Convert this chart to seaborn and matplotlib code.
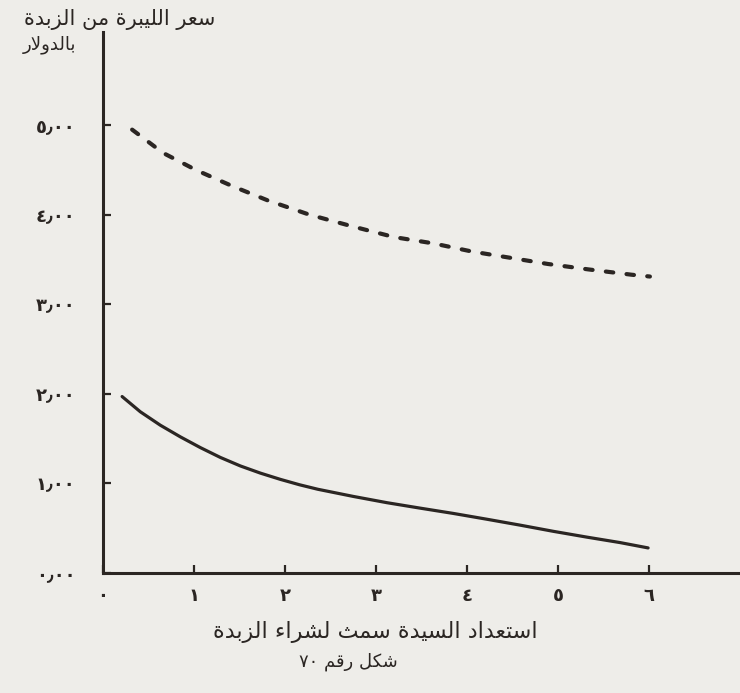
import re
import matplotlib
matplotlib.use("Agg")
import matplotlib.pyplot as plt
import seaborn as sns

# Arabic text (shaped below, matplotlib has no RTL layout)
Y_TITLE_1 = "سعر الليبرة من الزبدة"
Y_TITLE_2 = "بالدولار"
X_TITLE = "استعداد السيدة سمث لشراء الزبدة"
CAPTION = "شكل رقم ٧٠"

# tick labels (Arabic-Indic digits)
x_ticks = [0, 1, 2, 3, 4, 5, 6]
x_labels = ["٠", "١", "٢", "٣", "٤", "٥", "٦"]
y_ticks = [0, 1, 2, 3, 4, 5]
y_labels = ["٠٫٠٠", "١٫٠٠", "٢٫٠٠", "٣٫٠٠", "٤٫٠٠", "٥٫٠٠"]

# dashed curve (upper)
upper_x = [0.32, 0.66, 1.02, 1.42, 1.81, 2.27, 2.74, 3.20, 3.63, 4.05, 4.47, 4.89, 5.33, 5.81, 6.01]
upper_y = [4.95, 4.69, 4.50, 4.32, 4.16, 4.00, 3.87, 3.75, 3.68, 3.59, 3.52, 3.45, 3.39, 3.33, 3.31]

# solid curve (lower)
lower_x = [0.21, 0.41, 0.63, 0.85, 1.07, 1.29, 1.51, 1.73, 1.95, 2.16, 2.36,
           2.75, 3.12, 3.48, 3.85, 4.22, 4.58, 4.95, 5.32, 5.68, 5.99]
lower_y = [1.97, 1.80, 1.65, 1.52, 1.40, 1.29, 1.195, 1.115, 1.045, 0.985, 0.935,
           0.855, 0.785, 0.725, 0.665, 0.60, 0.535, 0.465, 0.40, 0.34, 0.28]

INK = "#2b2623"
PAPER = "#eeede9"

# isolated, final, initial, medial presentation forms
FORMS = {
    "ء": (0xFE80, None, None, None),
    "ا": (0xFE8D, 0xFE8E, None, None),
    "ب": (0xFE8F, 0xFE90, 0xFE91, 0xFE92),
    "ة": (0xFE93, 0xFE94, None, None),
    "ت": (0xFE95, 0xFE96, 0xFE97, 0xFE98),
    "ث": (0xFE99, 0xFE9A, 0xFE9B, 0xFE9C),
    "د": (0xFEA9, 0xFEAA, None, None),
    "ر": (0xFEAD, 0xFEAE, None, None),
    "ز": (0xFEAF, 0xFEB0, None, None),
    "س": (0xFEB1, 0xFEB2, 0xFEB3, 0xFEB4),
    "ش": (0xFEB5, 0xFEB6, 0xFEB7, 0xFEB8),
    "ع": (0xFEC9, 0xFECA, 0xFECB, 0xFECC),
    "ق": (0xFED5, 0xFED6, 0xFED7, 0xFED8),
    "ك": (0xFED9, 0xFEDA, 0xFEDB, 0xFEDC),
    "ل": (0xFEDD, 0xFEDE, 0xFEDF, 0xFEE0),
    "م": (0xFEE1, 0xFEE2, 0xFEE3, 0xFEE4),
    "ن": (0xFEE5, 0xFEE6, 0xFEE7, 0xFEE8),
    "و": (0xFEED, 0xFEEE, None, None),
    "ي": (0xFEF1, 0xFEF2, 0xFEF3, 0xFEF4),
    "لا": (0xFEFB, 0xFEFC, None, None),
}


def shape(text):
    toks = []
    i = 0
    while i < len(text):
        if text[i] == "ل" and i + 1 < len(text) and text[i + 1] == "ا":
            toks.append("لا")
            i += 2
        else:
            toks.append(text[i])
            i += 1
    out = []
    for k, t in enumerate(toks):
        if t not in FORMS:
            out.append(t)
            continue
        prev = toks[k - 1] if k > 0 else None
        nxt = toks[k + 1] if k + 1 < len(toks) else None
        cp = prev in FORMS and FORMS[prev][2] is not None and FORMS[t][1] is not None
        cn = nxt in FORMS and FORMS[t][2] is not None
        f = FORMS[t]
        if cp and cn:
            c = f[3]
        elif cp:
            c = f[1]
        elif cn:
            c = f[2]
        else:
            c = f[0]
        out.append(chr(c))
    s = "".join(out)[::-1]
    return re.sub(r"[٠-٩٫]+", lambda m: m.group()[::-1], s)


sns.set_theme(style="white")
plt.rcParams["font.family"] = ["DejaVu Sans"]

fig = plt.figure(figsize=(7.4, 6.93), dpi=100, facecolor=PAPER)
ax = fig.add_axes([103 / 740, 120 / 693, 637 / 740, 541 / 693])
ax.set_facecolor(PAPER)

sns.lineplot(x=upper_x, y=upper_y, ax=ax, color=INK, lw=3.0,
             linestyle=(0, (1.8, 3.2)), dash_capstyle="round")
sns.lineplot(x=lower_x, y=lower_y, ax=ax, color=INK, lw=2.3,
             solid_capstyle="round", solid_joinstyle="round")

ax.set_xlim(0, 7.0)
ax.set_ylim(0, 6.04)
ax.set_xticks(x_ticks)
ax.set_xticklabels(x_labels)
ax.set_yticks(y_ticks)
ax.set_yticklabels(y_labels)
ax.tick_params(axis="both", direction="in", length=6, width=1.6, color=INK,
               labelcolor=INK, labelsize=13, bottom=True, left=True)
ax.tick_params(axis="y", pad=20)
ax.tick_params(axis="x", pad=10)
for lab in ax.get_xticklabels() + ax.get_yticklabels():
    lab.set_fontweight("bold")

sns.despine(ax=ax)
for side in ["left", "bottom"]:
    ax.spines[side].set_color(INK)
    ax.spines[side].set_linewidth(2.2)

fig.text(120 / 740, 1 - 20 / 693, shape(Y_TITLE_1), ha="center", va="center",
         fontsize=15, color=INK)
fig.text(49 / 740, 1 - 45 / 693, shape(Y_TITLE_2), ha="center", va="center",
         fontsize=13, color=INK)
fig.text(375 / 740, 1 - 632 / 693, shape(X_TITLE), ha="center", va="center",
         fontsize=16, color=INK)
fig.text(348 / 740, 1 - 662 / 693, shape(CAPTION), ha="center", va="center",
         fontsize=13, color=INK)

fig.savefig("out.png", dpi=100, facecolor=PAPER)
